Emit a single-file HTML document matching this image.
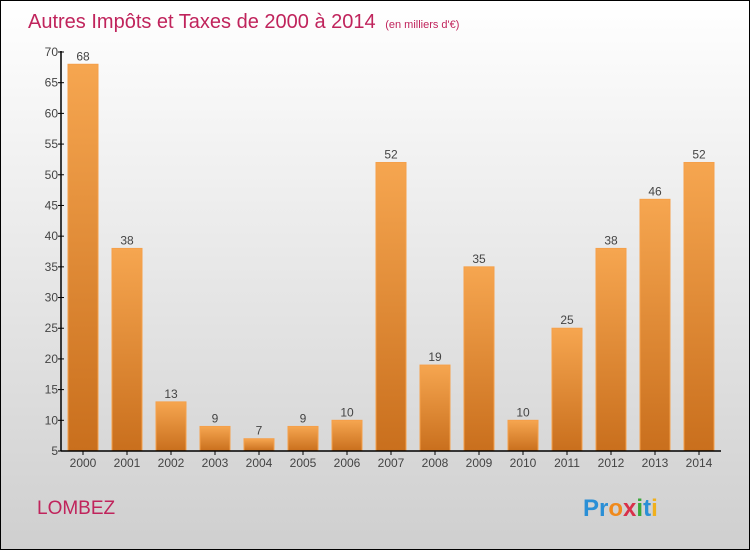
<!DOCTYPE html>
<html><head><meta charset="utf-8"><style>
body{margin:0}
#c{width:750px;height:550px;position:relative;overflow:hidden;box-sizing:border-box;border:1px solid #000;background:linear-gradient(#ffffff,#cfcfcf);font-family:"Liberation Sans",sans-serif}
</style></head><body>
<div id="c">
<svg id="s" width="750" height="550" style="position:absolute;left:0;top:0">
<defs><linearGradient id="g" x1="0" y1="0" x2="0" y2="1"><stop offset="0" stop-color="#f6a650"/><stop offset="1" stop-color="#c96f1d"/></linearGradient></defs>
<text x="27" y="27" font-size="20" fill="#c0245c">Autres Impôts et Taxes de 2000 à 2014 <tspan font-size="11" dx="4">(en milliers d'€)</tspan></text>
<text x="36" y="513" font-size="19" fill="#c0245c">LOMBEZ</text>
<text x="582" y="515" font-size="24" font-weight="bold"><tspan fill="#2a8fd6">Pr</tspan><tspan fill="#f08a1c">o</tspan><tspan fill="#d8304a">x</tspan><tspan fill="#3aa83a">i</tspan><tspan fill="#2a8fd6">t</tspan><tspan fill="#f0b01c">i</tspan></text>
<g id="plot"></g>
</svg>
</div>
<script>
const years=["2000","2001","2002","2003","2004","2005","2006","2007","2008","2009","2010","2011","2012","2013","2014"];
const values=[68,38,13,9,7,9,10,52,19,35,10,25,38,46,52];
const yTicks=[5,10,15,20,25,30,35,40,45,50,55,60,65,70];
const ns="http://www.w3.org/2000/svg";
const g=document.getElementById('plot');
const x0=60,band=44,bw=30,yMin=5,yMax=70,yTop=51,yBot=450;
const y=v=>yBot-(v-yMin)/(yMax-yMin)*(yBot-yTop);
const xc=i=>x0+band*i+band/2;
function mk(t,a){const e=document.createElementNS(ns,t);for(const k in a)e.setAttribute(k,a[k]);g.appendChild(e);return e;}
values.forEach((v,i)=>{
 const r=mk('rect',{x:xc(i)-bw/2,y:y(v),width:bw,height:yBot-y(v),fill:'url(#g)',stroke:'#f5a04a','stroke-width':1});
 
 
 const t=mk('text',{x:xc(i),y:y(v)-4,'font-size':12,fill:'#444','text-anchor':'middle'});t.textContent=v;
 
 
 const l=mk('text',{x:xc(i),y:466,'font-size':12,fill:'#444','text-anchor':'middle'});l.textContent=years[i];
 
 
 mk('line',{x1:xc(i),x2:xc(i),y1:yBot,y2:yBot+4,stroke:'#000'});
});
yTicks.forEach(v=>{
 mk('line',{x1:x0-3,x2:x0+3,y1:y(v),y2:y(v),stroke:'#000'});
 const t=mk('text',{x:x0-3,y:y(v)+4,'font-size':12,fill:'#444','text-anchor':'end'});t.textContent=v;
 
 
});
const ya=mk('line',{x1:x0,x2:x0,y1:yTop-1,y2:yBot,stroke:'#000','stroke-width':1.5});


const xa=mk('line',{x1:x0,x2:x0+band*years.length,y1:yBot,y2:yBot,stroke:'#000','stroke-width':1.5});


</script>
</body></html>
